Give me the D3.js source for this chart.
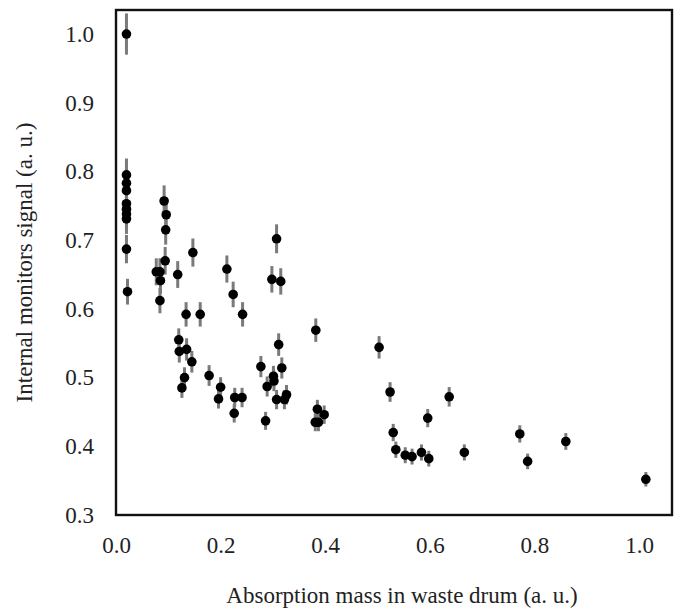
<!DOCTYPE html>
<html><head><meta charset="utf-8">
<script src="https://cdn.jsdelivr.net/npm/d3@7"></script>
<style>body{margin:0;background:#fff}svg{display:block}text{font-family:"Liberation Serif","Times New Roman",serif;fill:#222}</style>
</head><body>
<svg id="c" width="678" height="609"></svg>
<script>
const absorptionMass = [0.02,0.02,0.02,0.02,0.02,0.02,0.02,0.02,0.02,0.022,
 0.092,0.096,0.095,0.094,0.077,0.084,0.085,0.084,
 0.118,0.147,0.212,0.224,0.242,0.134,0.161,0.120,0.121,0.135,0.145,0.131,0.126,0.178,0.200,0.196,0.227,0.241,0.226,
 0.277,0.286,0.289,0.301,0.302,0.307,0.298,0.315,0.382,0.311,0.317,0.307,0.322,0.326,0.385,0.381,0.387,0.398,
 0.503,0.524,0.530,0.535,0.553,0.566,0.584,0.598,0.596,0.637,0.666,0.772,0.787,0.860,1.013];
const monitorSignal = [1.0,0.795,0.783,0.772,0.753,0.745,0.738,0.731,0.687,0.625,
 0.757,0.737,0.715,0.670,0.654,0.654,0.641,0.612,
 0.650,0.682,0.658,0.621,0.592,0.592,0.592,0.555,0.538,0.541,0.523,0.500,0.485,0.503,0.486,0.469,0.471,0.471,0.448,
 0.516,0.437,0.487,0.502,0.495,0.702,0.643,0.640,0.569,0.548,0.514,0.468,0.468,0.475,0.454,0.435,0.435,0.446,
 0.544,0.479,0.420,0.395,0.387,0.385,0.391,0.382,0.441,0.472,0.391,0.418,0.378,0.407,0.352];
const relativeError = 0.03;
const xTicks = [0,0.2,0.4,0.6,0.8,1.0];
const yTicks = [0.3,0.4,0.5,0.6,0.7,0.8,0.9,1.0];
const xTitle = "Absorption mass in waste drum (a. u.)";
const yTitle = "Internal monitors signal (a. u.)";

const svg = d3.select("#c");
const L=116,R=672,T=10,B=515;
const FS=23;
const x = d3.scaleLinear().domain([0,1.063]).range([L,R]);
const y = d3.scaleLinear().domain([0.3,1.035]).range([B,T]);
const pts = absorptionMass.map((m,i)=>({m, s:monitorSignal[i]}));

svg.append("g").selectAll("line").data(pts).join("line")
  .attr("x1",d=>x(d.m)).attr("x2",d=>x(d.m))
  .attr("y1",d=>y(d.s*(1+relativeError))).attr("y2",d=>y(d.s*(1-relativeError)))
  .attr("stroke","#7a7a7a").attr("stroke-width",3);
svg.append("g").selectAll("circle").data(pts).join("circle")
  .attr("cx",d=>x(d.m)).attr("cy",d=>y(d.s)).attr("r",4.8).attr("fill","#000");

svg.append("rect").attr("x",L).attr("y",T).attr("width",R-L).attr("height",B-T)
  .attr("fill","none").attr("stroke","#111").attr("stroke-width",2.4);

const xa = svg.append("g").attr("transform",`translate(0,${B})`)
  .call(d3.axisBottom(x).tickValues(xTicks).tickFormat(d3.format(".1f")).tickSize(0).tickPadding(22));
xa.select(".domain").remove();
xa.selectAll("text").attr("font-size",FS).style("font-family","Liberation Serif");
const ya = svg.append("g").attr("transform",`translate(${L},0)`)
  .call(d3.axisLeft(y).tickValues(yTicks).tickFormat(d3.format(".1f")).tickSize(0).tickPadding(22));
ya.select(".domain").remove();
ya.selectAll("text").attr("font-size",FS).style("font-family","Liberation Serif");

svg.append("text").attr("x",(L+R)/2+8).attr("y",603).attr("text-anchor","middle")
  .attr("font-size",FS).text(xTitle);
svg.append("text").attr("transform",`translate(32,${(T+B)/2}) rotate(-90)`).attr("text-anchor","middle")
  .attr("font-size",FS).text(yTitle);
</script>
</body></html>
